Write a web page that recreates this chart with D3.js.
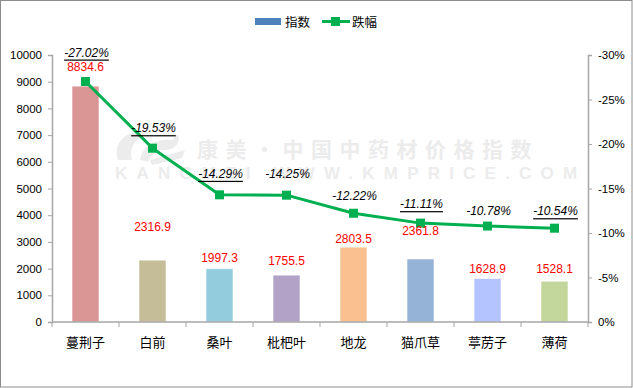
<!DOCTYPE html>
<html><head><meta charset="utf-8">
<script src="https://cdn.jsdelivr.net/npm/d3@7"></script>
<style>
html,body{margin:0;padding:0;background:#fff;}
svg{display:block;}
</style></head>
<body>
<script>
// ---- data ----
const categories = ["蔓荆子","白前","桑叶","枇杷叶","地龙","猫爪草","葶苈子","薄荷"];
const indexValues = [8834.6, 2316.9, 1997.3, 1755.5, 2803.5, 2361.8, 1628.9, 1528.1];
const dropValues = [27.02, 19.53, 14.29, 14.25, 12.22, 11.11, 10.78, 10.54];
const dropLabels = ["-27.02%","-19.53%","-14.29%","-14.25%","-12.22%","-11.11%","-10.78%","-10.54%"];
const dropUnderlined = [true, true, true, false, false, true, false, true];
const leftTicks = [0,1000,2000,3000,4000,5000,6000,7000,8000,9000,10000];
const rightTicks = [0,5,10,15,20,25,30];
const rightTickLabels = ["0%","-5%","-10%","-15%","-20%","-25%","-30%"];
const legendNames = ["指数","跌幅"];
// label anchors (in index units) for the red value labels
const valueLabelAnchor = [9551, 3547, 2397, 2285, 3109, 3419, 1985, 1985];
// label offsets (in px) above the drop points
const dropLabelLift = [29, 20, 21, 21, 17, 19, 15, 17];
const barColors = ["#d99694","#c4bd97","#93cddd","#b3a2c7","#fac08f","#95b3d7","#b3c4fe","#c3d69b"];

(function(){
const W = 633, H = 388;
const svg = d3.select("body").append("svg").attr("width", W).attr("height", H);
svg.append("rect").attr("x",0.5).attr("y",0.5).attr("width",W-1.5).attr("height",H-1.5)
  .attr("fill","#fff").attr("stroke","#8c8c8c").attr("stroke-width",1);

const pl = 52, pr = 588, pt = 55, pb = 322;
const x = d3.scaleBand().domain(categories).range([pl, pr]).paddingInner(0.597).paddingOuter(0.2985);
const xStep = d3.scaleBand().domain(categories).range([pl, pr]).padding(0);
const yL = d3.scaleLinear().domain([0, 10000]).range([pb, pt]);
const yR = d3.scaleLinear().domain([0, 30]).range([pb, pt]);

const numFont = "'Liberation Sans', Arial, sans-serif";
const cjkFont = "'Noto Sans CJK SC', 'Noto Sans', sans-serif";

// watermark
const wm = svg.append("g").attr("fill","#ececec");
wm.append("path").attr("d","M118,160 C112,140 130,128 150,132 C138,136 128,146 132,160 Z");
wm.append("path").attr("d","M140,160 C142,146 156,138 172,140 L178,134 C182,146 170,152 160,150 C154,152 150,158 148,162 Z");
wm.append("path").attr("d","M150,160 L185,150 L182,158 L152,165 Z");
wm.append("text").attr("x",197).attr("y",157).attr("font-family",cjkFont).attr("font-weight","bold")
  .attr("font-size",21).attr("letter-spacing",7.5).text("康美·中国中药材价格指数");
wm.append("text").attr("x",115).attr("y",179).attr("font-family",numFont).attr("font-weight","bold")
  .attr("font-size",17).attr("letter-spacing",9.2).text("KANGMEI WWW.KMPRICE.COM");

// bars
svg.append("g").selectAll("rect").data(indexValues).join("rect")
  .attr("x",(d,i)=>x(categories[i])).attr("width",x.bandwidth())
  .attr("y",d=>yL(d)).attr("height",d=>yL(0)-yL(d))
  .attr("fill",(d,i)=>barColors[i]).attr("stroke","rgba(255,255,255,0.6)").attr("stroke-width",1);

// left axis
const axisColor = "#a6a6a6";
const gL = svg.append("g").attr("transform",`translate(${pl},0)`)
  .call(d3.axisLeft(yL).tickValues(leftTicks).tickSize(4).tickPadding(6).tickFormat(d3.format("d")));
gL.select(".domain").attr("stroke",axisColor).attr("stroke-width",1.5);
gL.selectAll(".tick line").attr("stroke",axisColor);
gL.selectAll("text").attr("font-family",numFont).attr("font-size",11.5).attr("fill","#000");

// right axis
const gR = svg.append("g").attr("transform",`translate(${pr},0)`)
  .call(d3.axisRight(yR).tickValues(rightTicks).tickSize(4).tickPadding(6).tickFormat((d,i)=>rightTickLabels[i]));
gR.select(".domain").attr("stroke",axisColor).attr("stroke-width",1.5);
gR.selectAll(".tick line").attr("stroke",axisColor);
gR.selectAll("text").attr("font-family",numFont).attr("font-size",11.5).attr("fill","#000");

// bottom axis
const gB = svg.append("g").attr("transform",`translate(0,${pb})`);
gB.append("line").attr("x1",pl).attr("x2",pr).attr("stroke",axisColor).attr("stroke-width",1.5);
const bounds = categories.map(c=>xStep(c)).concat([pr]);
gB.selectAll("line.t").data(bounds).join("line").attr("class","t")
  .attr("x1",d=>d).attr("x2",d=>d).attr("y1",0).attr("y2",5).attr("stroke",axisColor);
gB.selectAll("text").data(categories).join("text")
  .attr("x",d=>xStep(d)+xStep.bandwidth()/2).attr("y",19).attr("text-anchor","middle")
  .attr("dominant-baseline","central").attr("font-family",cjkFont).attr("font-size",13).attr("fill","#000").text(d=>d);

// line
const cx = i => xStep(categories[i]) + xStep.bandwidth()/2;
const green = "#00b050";
svg.append("path").datum(dropValues)
  .attr("d", d3.line().x((d,i)=>cx(i)).y(d=>yR(d)))
  .attr("fill","none").attr("stroke",green).attr("stroke-width",3).attr("stroke-linejoin","round");
svg.append("g").selectAll("rect").data(dropValues).join("rect")
  .attr("x",(d,i)=>cx(i)-4.5).attr("y",d=>yR(d)-4.5).attr("width",9).attr("height",9).attr("fill",green);

// red value labels
svg.append("g").selectAll("text").data(indexValues).join("text")
  .attr("x",(d,i)=>cx(i)).attr("y",(d,i)=>yL(valueLabelAnchor[i]))
  .attr("text-anchor","middle").attr("dominant-baseline","central")
  .attr("font-family",numFont).attr("font-size",12).attr("fill","#ff0000")
  .text(d=>d3.format(".1f")(d));

// percent labels
svg.append("g").selectAll("text").data(dropValues).join("text")
  .attr("x",(d,i)=>cx(i)+1).attr("y",(d,i)=>yR(d)-dropLabelLift[i])
  .attr("text-anchor","middle").attr("dominant-baseline","central")
  .attr("font-family",numFont).attr("font-size",12).attr("font-style","italic").attr("fill","#000")
  .attr("text-decoration",(d,i)=>dropUnderlined[i]?"underline":"none")
  .text((d,i)=>dropLabels[i]);

// legend
const lg = svg.append("g");
lg.append("rect").attr("x",255).attr("y",18).attr("width",26).attr("height",7).attr("fill","#4f81bd");
lg.append("text").attr("x",285).attr("y",21.5).attr("dominant-baseline","central")
  .attr("font-family",cjkFont).attr("font-size",12.5).attr("fill","#000").text(legendNames[0]);
lg.append("line").attr("x1",322).attr("x2",350).attr("y1",21.5).attr("y2",21.5).attr("stroke",green).attr("stroke-width",3);
lg.append("rect").attr("x",331).attr("y",17).attr("width",9).attr("height",9).attr("fill",green);
lg.append("text").attr("x",352).attr("y",21.5).attr("dominant-baseline","central")
  .attr("font-family",cjkFont).attr("font-size",12.5).attr("fill","#000").text(legendNames[1]);
})();
</script>
</body></html>
